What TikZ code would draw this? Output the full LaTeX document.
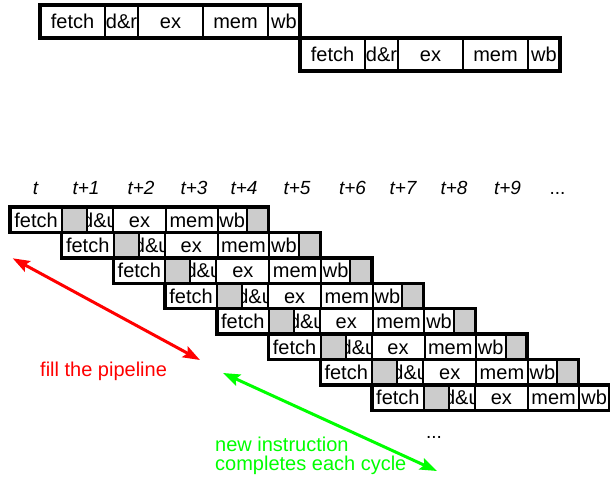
\documentclass[tikz,border=0pt]{standalone}
\usepackage{fontspec}
\setmainfont{Liberation Sans}
\usetikzlibrary{arrows.meta}
\definecolor{arrowred}{RGB}{255,0,0}
\definecolor{arrowgreen}{RGB}{0,255,0}
\definecolor{stipple}{gray}{0.8}
\begin{document}
\begin{tikzpicture}[x=1pt,y=-1pt,
  cell/.style={draw=black, line width=2pt, rectangle, inner sep=0pt, outer sep=0pt,
    anchor=north west, font=\fontsize{20}{20}\selectfont, text height=14.6pt, text depth=0pt},
  tcell/.style={cell, minimum height=33pt},
  lcell/.style={cell, minimum height=25.4pt},
  lshade/.style={lcell, fill=stipple},
  ctext/.style={draw=none, fill=none, inner sep=0pt, font=\fontsize{20}{20}\selectfont, text height=14.6pt, text depth=0pt},
  outline/.style={draw=black, line width=3.4pt},
  tlabel/.style={font=\fontsize{19}{19}\selectfont\itshape, anchor=base, inner sep=0pt},
  dbl/.style={{Stealth[length=17pt,width=12pt,inset=3pt]}-{Stealth[length=17pt,width=12pt,inset=3pt]}, line width=3pt},
]
\useasboundingbox (0,0) rectangle (610,497);
\clip (0,0) rectangle (610,497);

% ---------- top two-instruction sequence ----------
\foreach \p/\xo/\yo in {a/40/5, b/300/38}{
  \node[tcell, minimum width=65pt] (\p f) at (\xo,\yo) {fetch};
  \node[tcell, minimum width=33pt] (\p d) at (\p f.north east) {d\&r};
  \node[tcell, minimum width=65pt] (\p e) at (\p d.north east) {ex};
  \node[tcell, minimum width=65pt] (\p m) at (\p e.north east) {mem};
  \node[tcell, minimum width=32pt] (\p w) at (\p m.north east) {wb};
  \draw[outline] (\p f.north west) rectangle (\p w.south east);
}

% ---------- time labels ----------
\foreach \k/\xc/\lab in {0/35.5/t, 1/86/t+1, 2/141/t+2, 3/194/t+3, 4/244/t+4,
                         5/297/t+5, 6/352.5/t+6, 7/403/t+7, 8/454/t+8, 9/507.5/t+9}{
  \node[tlabel] (tl\k) at (\xc,195) {\lab};
}
\node[tlabel, font=\fontsize{19}{19}\selectfont] (tdots) at (557.5,195) {...};

% ---------- pipelined instructions ----------
\foreach \i in {0,...,7}{
  \pgfmathsetmacro\xo{10+51.7*\i}
  \pgfmathsetmacro\yo{207+25.4*\i}
  \node[lcell, minimum width=52pt] (f\i) at (\xo,\yo) {fetch};
  \node[lshade, minimum width=25pt] (sa\i) at (f\i.north east) {};
  \node[lcell, minimum width=26pt] (du\i) at (sa\i.north east) {};
  \begin{scope}
    \clip (du\i.north west) rectangle (du\i.south east);
    \node[ctext] (dut\i) at (du\i.center) {d\&u};
  \end{scope}
  \node[lcell, minimum width=53pt] (ex\i) at (du\i.north east) {ex};
  \node[lcell, minimum width=51.5pt] (me\i) at (ex\i.north east) {mem};
  \node[lcell, minimum width=29.5pt] (wb\i) at (me\i.north east) {wb};
  \node[lshade, minimum width=21.5pt] (sb\i) at (wb\i.north east) {};
  \draw[outline] (f\i.north west) rectangle (sb\i.south east);
}
\node[anchor=base, inner sep=0pt, font=\fontsize{19}{19}\selectfont] (vdots) at (434,438) {...};

% ---------- arrows and annotations ----------
\coordinate (r1) at (12.7,258.3);
\coordinate (r2) at (200,360);
\draw[dbl, arrowred] (r1) -- (r2);
\node[anchor=base west, inner sep=0pt, text=arrowred, font=\fontsize{20}{20}\selectfont]
  (filltxt) at (40,376.5) {fill the pipeline};

\coordinate (g1) at (223,373);
\coordinate (g2) at (437,471);
\draw[dbl, arrowgreen] (g1) -- (g2);
\node[anchor=base west, inner sep=0pt, align=left, text=arrowgreen,
      font=\fontsize{20}{18.3}\selectfont]
  (newtxt) at (215,470) {new instruction\\completes each cycle};
\end{tikzpicture}
\end{document}
